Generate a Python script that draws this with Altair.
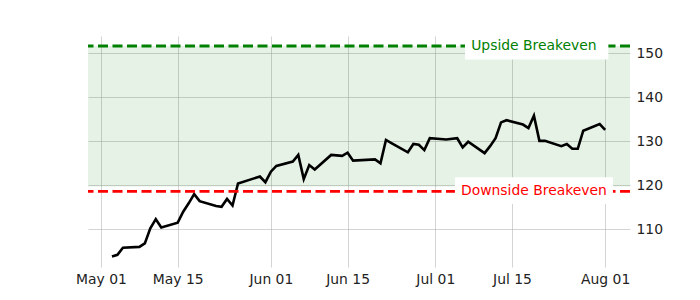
import altair as alt
import pandas as pd

# ---- data ----
dates = [
    "2023-05-03", "2023-05-04", "2023-05-05", "2023-05-08", "2023-05-09", "2023-05-10",
    "2023-05-11", "2023-05-12", "2023-05-15", "2023-05-16", "2023-05-17", "2023-05-18",
    "2023-05-19", "2023-05-22", "2023-05-23", "2023-05-24", "2023-05-25", "2023-05-26",
    "2023-05-30", "2023-05-31", "2023-06-01", "2023-06-02", "2023-06-05", "2023-06-06",
    "2023-06-07", "2023-06-08", "2023-06-09", "2023-06-12", "2023-06-13", "2023-06-14",
    "2023-06-15", "2023-06-16", "2023-06-20", "2023-06-21", "2023-06-22", "2023-06-23",
    "2023-06-26", "2023-06-27", "2023-06-28", "2023-06-29", "2023-06-30", "2023-07-03",
    "2023-07-05", "2023-07-06", "2023-07-07", "2023-07-10", "2023-07-11", "2023-07-12",
    "2023-07-13", "2023-07-14", "2023-07-17", "2023-07-18", "2023-07-19", "2023-07-20",
    "2023-07-21", "2023-07-24", "2023-07-25", "2023-07-26", "2023-07-27", "2023-07-28",
    "2023-07-31", "2023-08-01",
]
prices = [
    103.8, 104.2, 105.8, 106.0, 106.8, 110.2,
    112.3, 110.4, 111.5, 114.0, 115.9, 118.0,
    116.4, 115.3, 115.1, 116.9, 115.4, 120.4,
    122.0, 120.7, 123.1, 124.4, 125.4, 126.9,
    121.4, 124.6, 123.6, 126.9, 126.8, 126.7,
    127.4, 125.6, 125.9, 125.0, 130.3, 129.6,
    127.5, 129.4, 129.2, 128.0, 130.7, 130.4,
    130.7, 128.6, 129.9, 127.3, 128.9, 130.7,
    134.3, 134.8, 133.8, 133.0, 135.8, 130.1,
    130.1, 128.9, 129.4, 128.3, 128.3, 132.4,
    133.9, 132.6,
]

upside_breakeven = 151.66
downside_breakeven = 118.64
zone_low = 119.7

label_texts = ["Upside Breakeven", "Downside Breakeven"]
label_values = [upside_breakeven, downside_breakeven]
label_colors = ["#008000", "#ff0000"]
label_date = "2023-07-19T00:00:00"
box_x_start = ["2023-07-06T10:00:00", "2023-07-04T14:00:00"]
box_x_end = ["2023-08-01T14:00:00", "2023-08-02T10:00:00"]
box_y_top = [154.6, 121.8]
box_y_bottom = [148.6, 115.75]

x_domain = ["2023-04-28T15:05:00", "2023-08-05T12:45:00"]
y_domain = [101.43, 153.93]
x_tick_dates = [(2023, 5, 1), (2023, 5, 15), (2023, 6, 1), (2023, 6, 15),
                (2023, 7, 1), (2023, 7, 15), (2023, 8, 1)]
y_ticks = [110, 120, 130, 140, 150]

# ---- frames ----
price_df = pd.DataFrame({"date": [d + "T00:00:00" for d in dates], "price": prices})
zone_df = pd.DataFrame({"lo": [zone_low], "hi": [upside_breakeven]})
rule_df = pd.DataFrame({"value": label_values, "color": label_colors})
box_df = pd.DataFrame({"x1": box_x_start, "x2": box_x_end, "y1": box_y_bottom, "y2": box_y_top})
text_df = pd.DataFrame({"date": [label_date] * 2, "value": label_values,
                        "text": label_texts, "color": label_colors})

x_scale = alt.Scale(domain=x_domain)
y_scale = alt.Scale(domain=y_domain, zero=False, nice=False)

x_axis = alt.Axis(
    values=[alt.DateTime(year=y, month=m, date=d) for (y, m, d) in x_tick_dates],
    format="%b %d", title=None, grid=True, ticks=False, domain=False,
    labelPadding=5, labelFontSize=13.9, labelFont="DejaVu Sans", labelColor="#222222",
)
y_axis = alt.Axis(
    values=y_ticks, orient="right", title=None, grid=True, ticks=False, domain=False,
    labelPadding=6, labelFontSize=13.9, labelFont="DejaVu Sans", labelColor="#222222",
)

base_x = alt.X("date:T", scale=x_scale, axis=x_axis)

zone = alt.Chart(zone_df).mark_rect(color="#008000", opacity=0.1).encode(
    y=alt.Y("lo:Q", scale=y_scale, axis=y_axis), y2="hi:Q"
)

line = alt.Chart(price_df).mark_line(color="black", strokeWidth=2.6).encode(
    x=base_x, y=alt.Y("price:Q", scale=y_scale, axis=y_axis)
)

rules = alt.Chart(rule_df).mark_rule(strokeWidth=2.8, strokeDash=[10, 4.5]).encode(
    y=alt.Y("value:Q", scale=y_scale), color=alt.Color("color:N", scale=None)
)

boxes = alt.Chart(box_df).mark_rect(color="white").encode(
    x=alt.X("x1:T", scale=x_scale), x2="x2:T",
    y=alt.Y("y1:Q", scale=y_scale), y2="y2:Q",
)

texts = alt.Chart(text_df).mark_text(
    font="DejaVu Sans", fontSize=13.9, align="center", baseline="middle"
).encode(
    x=alt.X("date:T", scale=x_scale), y=alt.Y("value:Q", scale=y_scale),
    text="text:N", color=alt.Color("color:N", scale=None),
)

chart = alt.layer(zone, line, rules, boxes, texts).properties(
    width=542, height=231,
    autosize=alt.AutoSizeParams(type="none"),
    padding={"left": 88, "top": 36, "right": 70, "bottom": 33},
).configure_view(stroke=None).configure_axis(
    gridColor="#b0b0b0", gridOpacity=0.55, gridWidth=1
)

chart.save("out.html", embed_options={"renderer": "svg", "actions": False})
